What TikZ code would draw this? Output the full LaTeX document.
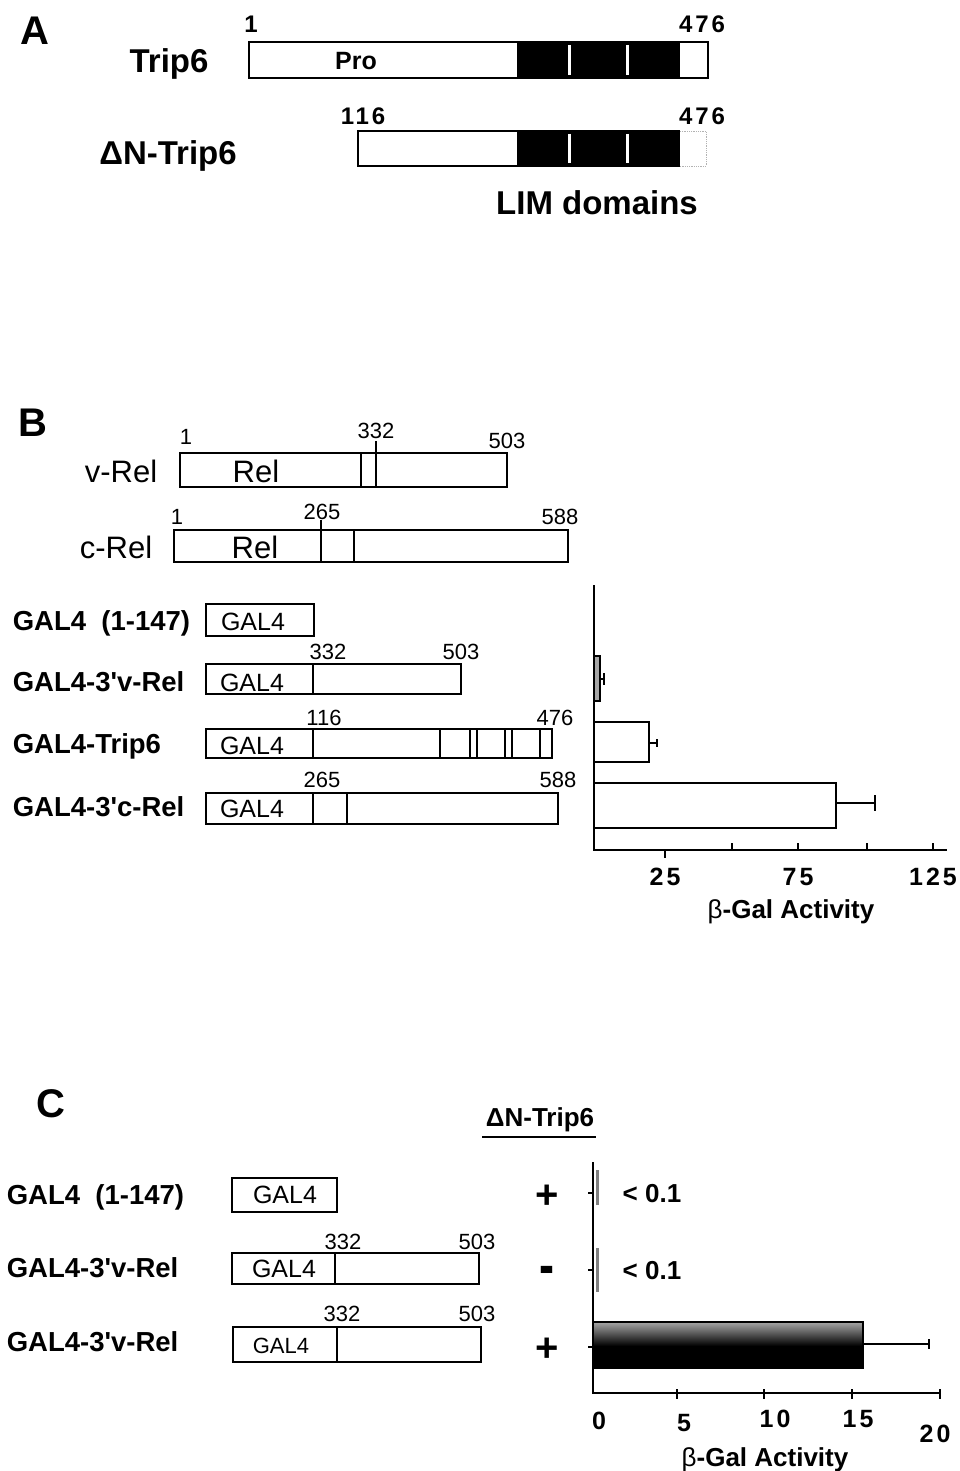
\documentclass[tikz,border=0pt]{standalone}
\usepackage{fontspec}
\setmainfont{Liberation Sans}
\newfontfamily\spacedsf[LetterSpace=12]{Liberation Sans}
\tikzset{
  fpanel/.style={font=\bfseries\fontsize{40}{42}\selectfont},
  fbig/.style={font=\bfseries\fontsize{33}{36}\selectfont},
  fpro/.style={font=\bfseries\fontsize{25}{28}\selectfont},
  fnuma/.style={font=\spacedsf\bfseries\fontsize{24}{26}\selectfont},
  frel/.style={font=\fontsize{31}{34}\selectfont},
  fnumb/.style={font=\fontsize{22}{24}\selectfont},
  fcon/.style={font=\bfseries\fontsize{27.5}{30}\selectfont},
  fgal/.style={font=\fontsize{25}{28}\selectfont},
  ftick/.style={font=\spacedsf\bfseries\fontsize{25}{28}\selectfont},
  faxis/.style={font=\bfseries\fontsize{26}{28}\selectfont},
  fsign/.style={font=\bfseries\fontsize{40}{42}\selectfont},
  thin/.style={line width=1.1pt},
}
\begin{document}
\begin{tikzpicture}[x=1pt, y=-1pt, line width=1.6pt,
    every node/.style={inner sep=0pt, anchor=base}]
  \useasboundingbox (0,0) rectangle (960,1471);
  % A
  \fill (517,42) rectangle (680,78);
  \fill (517,131) rectangle (680,166);
  \draw[white, line width=3pt]
    (569,45) -- (569,75) (627,45) -- (627,75)
    (569,134) -- (569,163) (627,134) -- (627,163);
  \draw (249,42) rectangle (708,78);
  \draw (680,131) -- (358,131) -- (358,166) -- (680,166);
  \draw[gray!60, line width=0.8pt, densely dotted]
    (680,131) -- (706,131) -- (706,166) -- (680,166);
  \draw[fpanel] (35,45) node (pA){A};
  \draw[fbig]
    (169,73) node (trip){Trip6}
    (168,165) node (dtrip){ΔN-Trip6}
    (597,215) node (lim){LIM domains};
  \draw[fpro] (356,70) node (pro){Pro};
  \draw[fnuma]
    (251,33) node (a1){1}
    (702,33) node (a476){476}
    (363,125) node (d116){116}
    (702,125) node (d476){476};
  % B
  \draw (180,453) rectangle (507,487);
  \draw (174,530) rectangle (568,562);
  \begin{scope}[thin]
    \draw (361,453) -- (361,487);
    \draw (376,441) -- (376,487);
    \draw (321,520) -- (321,562);
    \draw (354,530) -- (354,562);
  \end{scope}
  \draw[fpanel] (33,436) node (pB){B};
  \draw[frel]
    (121,482) node (vrel){v-Rel}
    (256,482) node (vrelin){Rel}
    (116,558) node (crel){c-Rel}
    (255,558) node (crelin){Rel};
  \draw[fnumb]
    (186,444) node (v1){1}
    (376,438) node (v332){332}
    (507,448) node (v503){503}
    (177,524) node (c1){1}
    (322,519) node (c265){265}
    (560,524) node (c588){588};
  \draw (206,604) rectangle (314,636);
  \draw (206,664) rectangle (461,694);
  \draw (206,729) rectangle (552,758);
  \draw (206,793) rectangle (558,824);
  \begin{scope}[thin]
    \draw (313,664) -- (313,694);
    \draw (313,729) -- (313,758);
    \foreach \xl in {440,470,477,505,512,540}
      \draw (\xl,729) -- (\xl,758);
    \draw (313,793) -- (313,824);
    \draw (347,793) -- (347,824);
  \end{scope}
  \draw[fcon]
    (12,630) node[anchor=base west] (g1){GAL4\ \ (1-147)}
    (12,691) node[anchor=base west] (g2){GAL4-3\textquotesingle v-Rel}
    (12,753) node[anchor=base west] (g3){GAL4-Trip6}
    (12,816) node[anchor=base west] (g4){GAL4-3\textquotesingle c-Rel};
  \draw[fgal]
    (253,630) node (g1in){GAL4}
    (252,691) node (g2in){GAL4}
    (252,754) node (g3in){GAL4}
    (252,817) node (g4in){GAL4};
  \draw[fnumb]
    (328,659) node (g2a){332}
    (461,659) node (g2b){503}
    (324,725) node (g3a){116}
    (555,725) node (g3b){476}
    (322,787) node (g4a){265}
    (558,787) node (g4b){588};
  % B chart
  \draw (594,585) -- (594,850) -- (947,850);
  \draw (665,850) -- (665,858);
  \foreach \xt in {732,798,867,933}
    \draw (\xt,850) -- (\xt,843);
  \draw[thin, fill=gray!70] (594,656) rectangle (600,701);
  \draw (594,722) rectangle (649,762);
  \draw (594,783) rectangle (836,828);
  \draw[thin] (600,679) -- (604,679) (604,673) -- (604,685);
  \draw[thin] (649,743) -- (657,743) (657,739) -- (657,747);
  \draw (836,803) -- (875,803) (875,795) -- (875,811);
  \draw[ftick]
    (665,885) node (t25){25}
    (798,885) node (t75){75}
    (933,885) node (t125){125};
  \draw[faxis] (791,918) node (xb){{\mdseries β}-Gal Activity};
  % C
  \draw[fpanel] (51,1117) node (pC){C};
  \draw[faxis] (540,1126) node (hdr){ΔN-Trip6};
  \draw[thin] (482,1137) -- (596,1137);
  \draw (232,1178) rectangle (337,1212);
  \draw (232,1253) rectangle (479,1284);
  \draw (233,1327) rectangle (481,1362);
  \begin{scope}[thin]
    \draw (335,1253) -- (335,1284);
    \draw (337,1327) -- (337,1362);
  \end{scope}
  \draw[fcon]
    (6,1204) node[anchor=base west] (h1){GAL4\ \ (1-147)}
    (6,1277) node[anchor=base west] (h2){GAL4-3\textquotesingle v-Rel}
    (6,1351) node[anchor=base west] (h3){GAL4-3\textquotesingle v-Rel};
  \draw[fgal]
    (285,1203) node (h1in){GAL4}
    (284,1277) node (h2in){GAL4};
  \draw[font=\fontsize{22}{24}\selectfont] (281,1353) node (h3in){GAL4};
  \draw[fnumb]
    (343,1249) node (h2a){332}
    (477,1249) node (h2b){503}
    (342,1321) node (h3a){332}
    (477,1321) node (h3b){503};
  \draw[fsign]
    (547,1208) node (s1){+}
    (547,1361) node (s3){+};
  \draw[font=\bfseries\fontsize{60}{60}\selectfont]
    (547,1285) node (s2){\scalebox{0.75}[1]{-}};
  % C chart
  \draw (593,1162) -- (593,1393) -- (940,1393);
  \foreach \xt in {677,764,852,940}
    \draw[thin] (\xt,1389) -- (\xt,1399);
  \foreach \yt in {1193,1270,1347}
    \draw[thin] (588,\yt) -- (593,\yt);
  \fill[gray] (596,1170) rectangle (599,1205);
  \fill[gray] (596,1248) rectangle (599,1292);
  \fill (593,1322) rectangle (863,1368);
  \shade[top color=black!35, bottom color=black] (593,1322) rectangle (863,1346);
  \draw (593,1322) rectangle (863,1368);
  \draw[thin] (863,1344) -- (929,1344) (929,1339) -- (929,1349);
  \draw[faxis]
    (652,1202) node (lt1){< 0.1}
    (652,1279) node (lt2){< 0.1};
  \draw[ftick]
    (599,1429) node (u0){0}
    (684,1431) node (u5){5}
    (775,1427) node (u10){10}
    (858,1427) node (u15){15}
    (935,1442) node (u20){20};
  \draw[faxis] (765,1466) node (xc){{\mdseries β}-Gal Activity};
\end{tikzpicture}
\end{document}
